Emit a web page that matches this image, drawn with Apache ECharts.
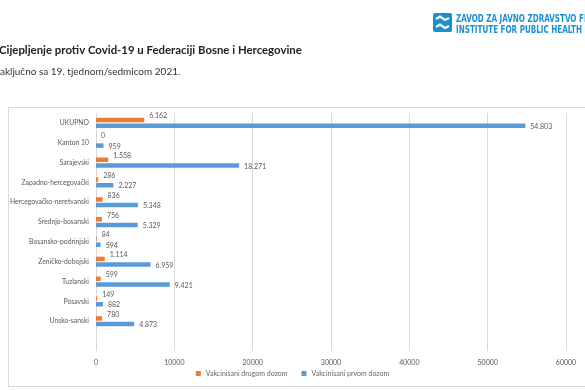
<!DOCTYPE html>
<html>
<head>
<meta charset="utf-8">
<script src="https://cdn.jsdelivr.net/npm/echarts@6/dist/echarts.min.js"></script>
<style>html,body{margin:0;padding:0;background:#fff;}#c{width:585px;height:390px;}</style>
</head>
<body>
<div id="c"></div>
<script>
var categories = ['UKUPNO','Kanton 10','Sarajevski','Zapadno-hercegovački','Hercegovačko-neretvanski','Srednjo-bosanski','Bosansko-podrinjski','Zeničko-dobojski','Tuzlanski','Posavski','Unsko-sanski',''];
var drugaDoza = [6162, 0, 1558, 286, 836, 756, 84, 1114, 599, 149, 780, null];
var prvaDoza = [54803, 959, 18271, 2227, 5348, 5329, 594, 6959, 9421, 882, 4873, null];
var xTicks = [0, 10000, 20000, 30000, 40000, 50000, 60000];
var seriesNames = ['Vakcinisani drugom dozom', 'Vakcinisani prvom dozom'];
var titleText = 'Cijepljenje protiv Covid-19 u Federaciji Bosne i Hercegovine';
var subtitleText = 'Zaključno sa 19. tjednom/sedmicom 2021.';
var logoLine1 = 'ZAVOD ZA JAVNO ZDRAVSTVO FEDERACIJE';
var logoLine2 = 'INSTITUTE FOR PUBLIC HEALTH FEDERATION';

function fmt(v){ return String(v).replace(/\B(?=(\d{3})+(?!\d))/g, '.'); }
var gray = '#595959';
var font = 'Lato, "Open Sans", sans-serif';
var logoFont = 'bold 10px "DejaVu Sans Condensed", "DejaVu Sans", sans-serif';

var chart = echarts.init(document.getElementById('c'), null, {renderer:'canvas'});
chart.setOption({
  animation: false,
  backgroundColor: '#fff',
  textStyle: {fontFamily: font},
  graphic: [
    {type:'rect', shape:{x:8.5, y:107.5, width:600, height:279}, style:{fill:'none', stroke:'#d9d9d9', lineWidth:1}, z:-1},
    {type:'text', x:-1, y:45, style:{text:titleText, font:'bold 11.4px ' + font, fill:'#222'}},
    {type:'text', x:-6, y:67, style:{text:subtitleText, font:'10px ' + font, fill:'#333'}},
    {type:'group', x:433, y:13, children:[
      {type:'rect', shape:{x:0, y:0, width:19, height:19, r:2}, style:{fill:'#1b8fcf'}},
      {type:'polyline', shape:{points:[[3,6],[7,3.5],[12,7],[16,5]]}, style:{stroke:'#fff', lineWidth:2.2, fill:'none'}},
      {type:'polyline', shape:{points:[[3,14],[7,11.5],[12,15],[16,13]]}, style:{stroke:'#fff', lineWidth:2.2, fill:'none'}}
    ]},
    {type:'text', x:456, y:14, scaleX:0.8, style:{text:logoLine1, font:logoFont, fill:'#1b8fcf'}},
    {type:'text', x:456, y:25, scaleX:0.8, style:{text:logoLine2, font:logoFont, fill:'#1b8fcf'}}
  ],
  legend: {
    data: seriesNames,
    bottom: 8,
    left: 'center',
    itemWidth: 5, itemHeight: 5, itemGap: 14,
    icon: 'rect',
    textStyle: {fontSize: 7, color: '#666', fontFamily: font}
  },
  grid: {left: 96, right: 19, top: 113, bottom: 39, containLabel: false},
  xAxis: {
    type: 'value', min: 0, max: 60000, interval: 10000,
    axisLine: {show:false}, axisTick: {show:false},
    splitLine: {show:true, lineStyle:{color:'#d9d9d9', width:1}},
    axisLabel: {fontSize: 7, color: gray, margin: 8, fontFamily: font, formatter: function(v){ return String(v); }}
  },
  yAxis: {
    type: 'category', data: categories, inverse: true,
    axisLine: {show:false}, axisTick: {show:false},
    axisLabel: {fontSize: 6.8, color: gray, margin: 7, fontFamily: font}
  },
  series: [
    {name: seriesNames[0], type:'bar', data: drugaDoza, barWidth: 4.5, barGap: '25%',
     itemStyle:{color:'#ed7d31'},
     label:{show:true, position:'right', distance:5, offset:[0,-4], fontSize:7, color:gray, fontFamily: font,
       formatter:function(p){ return p.value == null ? '' : fmt(p.value); }}},
    {name: seriesNames[1], type:'bar', data: prvaDoza, barWidth: 4.5, barGap: '25%',
     itemStyle:{color:'#5b9bd5'},
     label:{show:true, position:'right', distance:5, offset:[0,1], fontSize:7, color:gray, fontFamily: font,
       formatter:function(p){ return p.value == null ? '' : fmt(p.value); }}}
  ]
});
</script>
</body>
</html>
